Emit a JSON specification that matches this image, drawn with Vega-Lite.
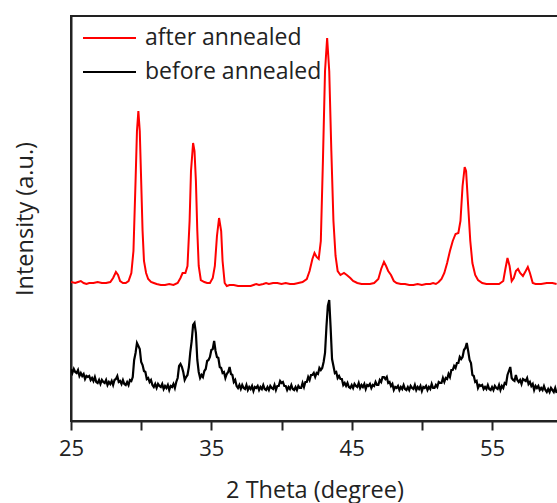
{
"$schema": "https://vega.github.io/schema/vega-lite/v6.json",
"width": 487, "height": 405,
"autosize": {"type": "none"},
"padding": {"left": 71, "top": 16, "right": 0, "bottom": 82},
"background": "white",
"config": {"view": {"stroke": "#222222", "strokeWidth": 2}, "font": "Open Sans"},
"datasets": {
"after": [
{"x":25.0,"y":139},{"x":25.3,"y":138},{"x":25.5,"y":139},{"x":25.7,"y":140},{"x":25.9,"y":138},{"x":26.1,"y":137},{"x":26.3,"y":138},{"x":26.6,"y":138},{"x":26.9,"y":139},{"x":27.2,"y":138},{"x":27.5,"y":138},{"x":27.8,"y":139},{"x":28.0,"y":143},{"x":28.2,"y":149},{"x":28.35,"y":146},{"x":28.5,"y":140},{"x":28.7,"y":138},{"x":28.9,"y":138},{"x":29.1,"y":140},{"x":29.3,"y":148},{"x":29.45,"y":170},{"x":29.6,"y":240},{"x":29.7,"y":290},{"x":29.8,"y":310},{"x":29.9,"y":290},{"x":30.0,"y":240},{"x":30.1,"y":190},{"x":30.2,"y":160},{"x":30.35,"y":148},{"x":30.5,"y":142},{"x":30.7,"y":139},{"x":30.9,"y":138},{"x":31.1,"y":137},{"x":31.4,"y":136},{"x":31.7,"y":136},{"x":32.0,"y":137},{"x":32.3,"y":136},{"x":32.6,"y":138},{"x":32.8,"y":143},{"x":32.95,"y":148},{"x":33.15,"y":148},{"x":33.3,"y":155},{"x":33.45,"y":200},{"x":33.55,"y":250},{"x":33.7,"y":278},{"x":33.8,"y":270},{"x":33.9,"y":240},{"x":34.0,"y":190},{"x":34.1,"y":155},{"x":34.25,"y":141},{"x":34.5,"y":139},{"x":34.7,"y":138},{"x":34.9,"y":138},{"x":35.1,"y":143},{"x":35.25,"y":155},{"x":35.4,"y":185},{"x":35.55,"y":203},{"x":35.7,"y":190},{"x":35.8,"y":160},{"x":35.95,"y":138},{"x":36.1,"y":135},{"x":36.3,"y":136},{"x":36.6,"y":136},{"x":36.9,"y":135},{"x":37.2,"y":135},{"x":37.5,"y":135},{"x":37.8,"y":135},{"x":38.0,"y":136},{"x":38.2,"y":137},{"x":38.4,"y":136},{"x":38.7,"y":137},{"x":38.9,"y":138},{"x":39.1,"y":137},{"x":39.4,"y":138},{"x":39.7,"y":138},{"x":40.0,"y":137},{"x":40.3,"y":138},{"x":40.6,"y":137},{"x":40.9,"y":137},{"x":41.2,"y":138},{"x":41.5,"y":139},{"x":41.8,"y":142},{"x":42.0,"y":150},{"x":42.2,"y":162},{"x":42.35,"y":168},{"x":42.5,"y":164},{"x":42.65,"y":162},{"x":42.8,"y":180},{"x":42.95,"y":260},{"x":43.1,"y":350},{"x":43.25,"y":383},{"x":43.4,"y":350},{"x":43.55,"y":270},{"x":43.7,"y":200},{"x":43.85,"y":165},{"x":44.0,"y":150},{"x":44.2,"y":146},{"x":44.45,"y":148},{"x":44.65,"y":146},{"x":44.9,"y":143},{"x":45.1,"y":140},{"x":45.4,"y":138},{"x":45.7,"y":137},{"x":46.0,"y":137},{"x":46.3,"y":137},{"x":46.6,"y":138},{"x":46.9,"y":142},{"x":47.1,"y":152},{"x":47.3,"y":159},{"x":47.45,"y":155},{"x":47.6,"y":150},{"x":47.8,"y":146},{"x":48.0,"y":140},{"x":48.2,"y":138},{"x":48.5,"y":137},{"x":48.8,"y":137},{"x":49.1,"y":136},{"x":49.4,"y":136},{"x":49.7,"y":137},{"x":50.0,"y":136},{"x":50.3,"y":137},{"x":50.6,"y":137},{"x":50.8,"y":138},{"x":51.0,"y":137},{"x":51.2,"y":139},{"x":51.4,"y":142},{"x":51.6,"y":148},{"x":51.8,"y":158},{"x":52.0,"y":170},{"x":52.2,"y":180},{"x":52.4,"y":187},{"x":52.6,"y":188},{"x":52.75,"y":200},{"x":52.9,"y":235},{"x":53.05,"y":254},{"x":53.15,"y":250},{"x":53.3,"y":215},{"x":53.45,"y":180},{"x":53.6,"y":158},{"x":53.8,"y":146},{"x":54.0,"y":141},{"x":54.3,"y":138},{"x":54.6,"y":137},{"x":54.9,"y":137},{"x":55.2,"y":137},{"x":55.5,"y":137},{"x":55.8,"y":140},{"x":55.95,"y":152},{"x":56.1,"y":163},{"x":56.25,"y":155},{"x":56.4,"y":140},{"x":56.55,"y":143},{"x":56.7,"y":150},{"x":56.85,"y":152},{"x":57.0,"y":148},{"x":57.2,"y":145},{"x":57.4,"y":150},{"x":57.55,"y":154},{"x":57.7,"y":148},{"x":57.9,"y":138},{"x":58.1,"y":137},{"x":58.5,"y":137},{"x":58.9,"y":138},{"x":59.3,"y":138},{"x":59.6,"y":137}
],
"before": [
{"x":25.0,"y":52},{"x":25.1,"y":48},{"x":25.2,"y":52},{"x":25.3,"y":49},{"x":25.4,"y":48},{"x":25.5,"y":51},{"x":25.6,"y":45},{"x":25.7,"y":48},{"x":25.8,"y":45},{"x":25.9,"y":47},
{"x":26.0,"y":42},{"x":26.1,"y":45},{"x":26.2,"y":44},{"x":26.3,"y":45},{"x":26.4,"y":41},{"x":26.5,"y":43},{"x":26.6,"y":40},{"x":26.7,"y":44},{"x":26.8,"y":39},{"x":26.9,"y":38},
{"x":27.0,"y":41},{"x":27.1,"y":37},{"x":27.2,"y":41},{"x":27.3,"y":39},{"x":27.4,"y":38},{"x":27.5,"y":41},{"x":27.6,"y":36},{"x":27.7,"y":39},{"x":27.8,"y":37},{"x":27.9,"y":40},
{"x":28.0,"y":36},{"x":28.1,"y":41},{"x":28.2,"y":42},{"x":28.3,"y":45},{"x":28.4,"y":39},{"x":28.5,"y":40},{"x":28.6,"y":37},{"x":28.7,"y":41},{"x":28.8,"y":37},{"x":28.9,"y":36},
{"x":29.0,"y":39},{"x":29.1,"y":36},{"x":29.2,"y":41},{"x":29.3,"y":40},{"x":29.4,"y":44},{"x":29.5,"y":61},{"x":29.6,"y":68},{"x":29.7,"y":78},{"x":29.8,"y":75},{"x":29.9,"y":72},
{"x":30.0,"y":59},{"x":30.1,"y":56},{"x":30.2,"y":50},{"x":30.3,"y":49},{"x":30.4,"y":42},{"x":30.5,"y":43},{"x":30.6,"y":39},{"x":30.7,"y":41},{"x":30.8,"y":36},{"x":30.9,"y":34},
{"x":31.0,"y":37},{"x":31.1,"y":33},{"x":31.2,"y":37},{"x":31.3,"y":35},{"x":31.4,"y":34},{"x":31.5,"y":37},{"x":31.6,"y":32},{"x":31.7,"y":35},{"x":31.8,"y":33},{"x":31.9,"y":36},
{"x":32.0,"y":31},{"x":32.1,"y":35},{"x":32.2,"y":34},{"x":32.3,"y":37},{"x":32.4,"y":33},{"x":32.5,"y":39},{"x":32.6,"y":43},{"x":32.7,"y":55},{"x":32.8,"y":57},{"x":32.9,"y":54},
{"x":33.0,"y":49},{"x":33.1,"y":41},{"x":33.2,"y":44},{"x":33.3,"y":46},{"x":33.4,"y":54},{"x":33.5,"y":69},{"x":33.6,"y":80},{"x":33.7,"y":96},{"x":33.8,"y":98},{"x":33.9,"y":88},
{"x":34.0,"y":61},{"x":34.1,"y":49},{"x":34.2,"y":43},{"x":34.3,"y":46},{"x":34.4,"y":44},{"x":34.5,"y":50},{"x":34.6,"y":52},{"x":34.7,"y":60},{"x":34.8,"y":61},{"x":34.9,"y":64},
{"x":35.0,"y":71},{"x":35.1,"y":72},{"x":35.2,"y":80},{"x":35.3,"y":70},{"x":35.4,"y":64},{"x":35.5,"y":63},{"x":35.6,"y":54},{"x":35.7,"y":53},{"x":35.8,"y":48},{"x":35.9,"y":49},
{"x":36.0,"y":43},{"x":36.1,"y":47},{"x":36.2,"y":49},{"x":36.3,"y":54},{"x":36.4,"y":47},{"x":36.5,"y":46},{"x":36.6,"y":39},{"x":36.7,"y":41},{"x":36.8,"y":35},{"x":36.9,"y":33},
{"x":37.0,"y":36},{"x":37.1,"y":32},{"x":37.2,"y":36},{"x":37.3,"y":33},{"x":37.4,"y":32},{"x":37.5,"y":36},{"x":37.6,"y":31},{"x":37.7,"y":34},{"x":37.8,"y":32},{"x":37.9,"y":35},
{"x":38.0,"y":30},{"x":38.1,"y":34},{"x":38.2,"y":33},{"x":38.3,"y":35},{"x":38.4,"y":31},{"x":38.5,"y":34},{"x":38.6,"y":32},{"x":38.7,"y":36},{"x":38.8,"y":32},{"x":38.9,"y":31},
{"x":39.0,"y":34},{"x":39.1,"y":31},{"x":39.2,"y":35},{"x":39.3,"y":33},{"x":39.4,"y":32},{"x":39.5,"y":36},{"x":39.6,"y":31},{"x":39.7,"y":35},{"x":39.8,"y":35},{"x":39.9,"y":40},
{"x":40.0,"y":38},{"x":40.1,"y":39},{"x":40.2,"y":35},{"x":40.3,"y":35},{"x":40.4,"y":31},{"x":40.5,"y":34},{"x":40.6,"y":32},{"x":40.7,"y":36},{"x":40.8,"y":32},{"x":40.9,"y":31},
{"x":41.0,"y":34},{"x":41.1,"y":31},{"x":41.2,"y":35},{"x":41.3,"y":33},{"x":41.4,"y":33},{"x":41.5,"y":38},{"x":41.6,"y":34},{"x":41.7,"y":39},{"x":41.8,"y":39},{"x":41.9,"y":44},
{"x":42.0,"y":41},{"x":42.1,"y":46},{"x":42.2,"y":46},{"x":42.3,"y":48},{"x":42.4,"y":44},{"x":42.5,"y":48},{"x":42.6,"y":47},{"x":42.7,"y":53},{"x":42.8,"y":51},{"x":42.9,"y":53},
{"x":43.0,"y":59},{"x":43.1,"y":68},{"x":43.2,"y":94},{"x":43.3,"y":115},{"x":43.4,"y":121},{"x":43.5,"y":93},{"x":43.6,"y":62},{"x":43.7,"y":55},{"x":43.8,"y":48},{"x":43.9,"y":49},
{"x":44.0,"y":43},{"x":44.1,"y":45},{"x":44.2,"y":42},{"x":44.3,"y":42},{"x":44.4,"y":36},{"x":44.5,"y":38},{"x":44.6,"y":35},{"x":44.7,"y":38},{"x":44.8,"y":34},{"x":44.9,"y":33},
{"x":45.0,"y":36},{"x":45.1,"y":33},{"x":45.2,"y":37},{"x":45.3,"y":35},{"x":45.4,"y":34},{"x":45.5,"y":38},{"x":45.6,"y":33},{"x":45.7,"y":36},{"x":45.8,"y":34},{"x":45.9,"y":37},
{"x":46.0,"y":32},{"x":46.1,"y":36},{"x":46.2,"y":35},{"x":46.3,"y":37},{"x":46.4,"y":33},{"x":46.5,"y":36},{"x":46.6,"y":35},{"x":46.7,"y":39},{"x":46.8,"y":36},{"x":46.9,"y":36},
{"x":47.0,"y":41},{"x":47.1,"y":39},{"x":47.2,"y":44},{"x":47.3,"y":44},{"x":47.4,"y":42},{"x":47.5,"y":44},{"x":47.6,"y":38},{"x":47.7,"y":39},{"x":47.8,"y":35},{"x":47.9,"y":37},
{"x":48.0,"y":31},{"x":48.1,"y":34},{"x":48.2,"y":33},{"x":48.3,"y":35},{"x":48.4,"y":31},{"x":48.5,"y":34},{"x":48.6,"y":32},{"x":48.7,"y":36},{"x":48.8,"y":32},{"x":48.9,"y":31},
{"x":49.0,"y":34},{"x":49.1,"y":31},{"x":49.2,"y":35},{"x":49.3,"y":33},{"x":49.4,"y":32},{"x":49.5,"y":36},{"x":49.6,"y":31},{"x":49.7,"y":34},{"x":49.8,"y":32},{"x":49.9,"y":35},
{"x":50.0,"y":30},{"x":50.1,"y":34},{"x":50.2,"y":33},{"x":50.3,"y":35},{"x":50.4,"y":31},{"x":50.5,"y":34},{"x":50.6,"y":32},{"x":50.7,"y":37},{"x":50.8,"y":33},{"x":50.9,"y":33},
{"x":51.0,"y":36},{"x":51.1,"y":34},{"x":51.2,"y":39},{"x":51.3,"y":38},{"x":51.4,"y":38},{"x":51.5,"y":43},{"x":51.6,"y":39},{"x":51.7,"y":43},{"x":51.8,"y":42},{"x":51.9,"y":47},
{"x":52.0,"y":44},{"x":52.1,"y":51},{"x":52.2,"y":51},{"x":52.3,"y":55},{"x":52.4,"y":53},{"x":52.5,"y":58},{"x":52.6,"y":58},{"x":52.7,"y":64},{"x":52.8,"y":62},{"x":52.9,"y":64},
{"x":53.0,"y":71},{"x":53.1,"y":73},{"x":53.2,"y":78},{"x":53.3,"y":70},{"x":53.4,"y":61},{"x":53.5,"y":58},{"x":53.6,"y":46},{"x":53.7,"y":45},{"x":53.8,"y":39},{"x":53.9,"y":40},
{"x":54.0,"y":33},{"x":54.1,"y":36},{"x":54.2,"y":35},{"x":54.3,"y":36},{"x":54.4,"y":32},{"x":54.5,"y":34},{"x":54.6,"y":32},{"x":54.7,"y":36},{"x":54.8,"y":32},{"x":54.9,"y":31},
{"x":55.0,"y":34},{"x":55.1,"y":31},{"x":55.2,"y":35},{"x":55.3,"y":33},{"x":55.4,"y":32},{"x":55.5,"y":36},{"x":55.6,"y":31},{"x":55.7,"y":35},{"x":55.8,"y":33},{"x":55.9,"y":38},
{"x":56.0,"y":37},{"x":56.1,"y":46},{"x":56.2,"y":50},{"x":56.3,"y":54},{"x":56.4,"y":43},{"x":56.5,"y":41},{"x":56.6,"y":40},{"x":56.7,"y":46},{"x":56.8,"y":41},{"x":56.9,"y":39},
{"x":57.0,"y":41},{"x":57.1,"y":37},{"x":57.2,"y":42},{"x":57.3,"y":41},{"x":57.4,"y":40},{"x":57.5,"y":43},{"x":57.6,"y":37},{"x":57.7,"y":39},{"x":57.8,"y":35},{"x":57.9,"y":37},
{"x":58.0,"y":31},{"x":58.1,"y":35},{"x":58.2,"y":33},{"x":58.3,"y":35},{"x":58.4,"y":31},{"x":58.5,"y":33},{"x":58.6,"y":31},{"x":58.7,"y":35},{"x":58.8,"y":31},{"x":58.9,"y":29},
{"x":59.0,"y":32},{"x":59.1,"y":29},{"x":59.2,"y":33},{"x":59.3,"y":31},{"x":59.4,"y":29},{"x":59.5,"y":33},{"x":59.6,"y":28}
]
},
"layer": [
{
"data": {"name": "before"},
"mark": {"type": "line", "strokeWidth": 2.2, "clip": true},
"encoding": {
"x": {"field": "x", "type": "quantitative", "scale": {"domain": [25, 59.7], "nice": false, "zero": false},
 "axis": {"values": [25, 30, 35, 40, 45, 50, 55], "labelExpr": "datum.value % 10 === 5 ? datum.label : ''", "labelFlush": false, "labelOverlap": false,
  "title": "2 Theta (degree)", "grid": false, "tickSize": 9, "tickWidth": 2, "tickColor": "#222222", "domainColor": "#222222", "domainWidth": 2,
  "labelFontSize": 22, "labelColor": "#222222", "labelPadding": 8, "titleFontSize": 23.5, "titleFontWeight": "normal", "titleColor": "#222222", "titlePadding": 19,
  "encode": {"ticks": {"update": {"y2": {"signal": "datum.value % 10 === 0 ? 5 : 9"}}}}}},
"y": {"field": "y", "type": "quantitative", "scale": {"domain": [0, 405], "nice": false},
 "axis": {"title": "Intensity (a.u.)", "labels": false, "ticks": false, "grid": false, "domainColor": "#222222", "domainWidth": 2,
  "titleFontSize": 23.5, "titleFontWeight": "normal", "titleColor": "#222222", "titlePadding": 34}},
"color": {"datum": "before annealed", "type": "nominal",
 "scale": {"domain": ["after annealed", "before annealed"], "range": ["#ff0000", "#000000"]},
 "legend": {"orient": "none", "legendX": 11, "legendY": 5, "title": null, "symbolType": "stroke", "symbolSize": 2809, "symbolStrokeWidth": 2,
  "labelFontSize": 23, "labelColor": "#222222", "labelOffset": 8, "labelLimit": 400, "clipHeight": 34, "rowPadding": 0, "padding": 0}}
}
},
{
"data": {"name": "after"},
"mark": {"type": "line", "strokeWidth": 2, "clip": true},
"encoding": {
"x": {"field": "x", "type": "quantitative"},
"y": {"field": "y", "type": "quantitative"},
"color": {"datum": "after annealed", "type": "nominal"}
}
}
]
}
